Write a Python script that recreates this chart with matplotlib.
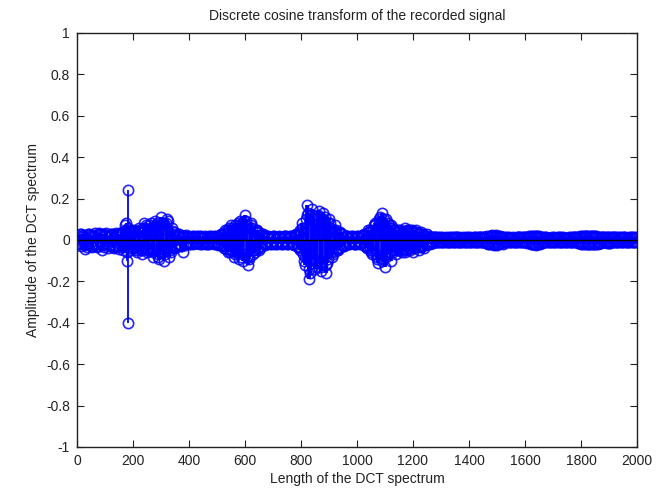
import matplotlib
matplotlib.use("Agg")
import matplotlib.pyplot as plt
import numpy as np

plt.rcParams["font.family"] = ["Liberation Sans", "DejaVu Sans"]

# DCT coefficients, index 10, 20, ..., 2000
seg1 = [0.03, -0.02, -0.045, 0.025, -0.03, 0.02, -0.035, 0.03, -0.05, 0.025,
        -0.04, 0.03, -0.03, 0.035, -0.045, 0.04, 0.07, -0.06, 0.05, -0.04]
seg2 = [-0.05, 0.06, -0.04, 0.08, -0.06, 0.05, -0.08, 0.09, -0.07, 0.11,
        -0.10, 0.10, -0.08, 0.06, -0.04, 0.03, -0.03, -0.06, 0.025, -0.02]
seg3 = [0.02, -0.015, 0.02, -0.02, 0.015, -0.02, 0.02, -0.015, 0.02, -0.02,
        0.025, -0.03, 0.05, -0.06, 0.07, -0.08, 0.06, -0.09, 0.08, 0.12]
seg4 = [-0.12, 0.07, -0.07, 0.05, -0.05, 0.03, -0.025, 0.02, -0.02, 0.02,
        -0.015, 0.02, -0.02, 0.015, -0.02, 0.02, -0.02, 0.025, -0.03, 0.04]
seg5 = [-0.10, 0.17, -0.19, 0.15, -0.14, 0.12, -0.15, 0.13, -0.16, 0.10,
        -0.08, 0.07, -0.05, 0.04, -0.03, 0.02, -0.02, 0.02, -0.015, 0.02]
seg6 = [-0.02, 0.025, -0.03, 0.05, -0.06, 0.07, -0.09, 0.10, 0.13, -0.13,
        0.08, -0.10, 0.06, -0.07, 0.05, -0.06, 0.06, -0.05, 0.05, -0.06]
seg7 = [0.05, -0.05, 0.04, -0.04, 0.03, -0.02, 0.015, -0.012, 0.012, -0.012,
        0.01, -0.012, 0.012, -0.01, 0.012, -0.012, 0.01, -0.012, 0.012, -0.01]
seg8 = [0.01, -0.012, 0.012, -0.01, 0.012, -0.015, 0.015, -0.02, 0.02, -0.025,
        0.02, -0.02, 0.012, -0.012, 0.01, -0.012, 0.012, -0.01, 0.012, -0.012]
seg9 = [0.015, -0.02, 0.02, -0.022, 0.018, -0.015, 0.012, -0.01, 0.01, -0.012,
        0.01, -0.01, 0.012, -0.01, 0.01, -0.012, 0.012, -0.012, 0.015, -0.018]
seg10 = [0.02, -0.02, 0.018, -0.02, 0.02, -0.018, 0.015, -0.012, 0.015, -0.015,
         0.015, -0.012, 0.012, -0.012, 0.012, -0.01, 0.012, -0.012, 0.012, -0.012]

# index 5, 15, ..., 1995
segA = [-0.02, 0.03, 0.015, -0.035, 0.02, -0.025, 0.035, -0.02, 0.03, -0.035,
        0.02, -0.025, 0.03, -0.03, 0.025, -0.035, -0.05, 0.04, -0.03, 0.045]
segB = [0.04, -0.03, 0.05, -0.05, 0.07, -0.04, 0.06, -0.05, 0.08, -0.06,
        0.07, -0.05, 0.09, -0.06, 0.04, -0.03, 0.03, 0.02, -0.025, 0.02]
segC = [-0.02, 0.015, -0.015, 0.02, -0.02, 0.015, -0.02, 0.015, -0.015, 0.02,
        -0.025, 0.03, -0.04, 0.05, -0.05, 0.06, -0.07, 0.08, -0.08, 0.06]
segD = [0.09, -0.09, 0.06, -0.06, 0.04, -0.03, 0.02, -0.02, 0.015, -0.02,
        0.02, -0.015, 0.015, -0.02, 0.02, -0.015, 0.02, -0.025, 0.03, -0.05]
segE = [0.08, -0.12, 0.13, -0.11, 0.10, -0.13, 0.14, -0.12, 0.11, -0.09,
        0.08, -0.06, 0.05, -0.04, 0.03, -0.025, 0.02, -0.015, 0.02, -0.02]
segF = [0.015, -0.02, 0.03, -0.04, 0.05, -0.07, 0.08, -0.11, 0.09, 0.07,
        -0.08, 0.07, -0.05, 0.05, -0.04, 0.05, -0.05, 0.04, -0.04, 0.05]
segG = [-0.04, 0.04, -0.03, 0.03, -0.025, 0.02, -0.015, 0.012, -0.01, 0.012,
        -0.012, 0.01, -0.012, 0.012, -0.01, 0.012, -0.012, 0.01, -0.012, 0.012]
segH = [-0.012, 0.01, -0.012, 0.012, -0.01, 0.012, -0.015, 0.018, -0.02, 0.022,
        -0.018, 0.015, -0.01, 0.012, -0.012, 0.01, -0.012, 0.012, -0.01, 0.012]
segI = [-0.012, 0.018, -0.018, 0.02, -0.02, 0.015, -0.012, 0.012, -0.01, 0.012,
        -0.012, 0.01, -0.01, 0.012, -0.012, 0.01, -0.01, 0.012, -0.012, 0.015]
segJ = [-0.015, 0.02, -0.02, 0.02, -0.018, 0.02, -0.015, 0.015, -0.012, 0.012,
        -0.015, 0.012, -0.012, 0.012, -0.01, 0.012, -0.012, 0.01, -0.012, 0.01]

# index 3, 13, ..., 1993
cC1 = [0.02, -0.03, 0.025, -0.02, 0.03, -0.035, 0.015, -0.03, 0.025, -0.02,
       0.035, -0.03, 0.02, -0.04, 0.03, -0.02, 0.04, -0.03, 0.06, -0.05]
cC2 = [0.05, -0.06, 0.04, -0.07, 0.06, -0.05, 0.08, -0.06, 0.07, -0.09,
       0.08, -0.07, 0.05, -0.05, 0.03, -0.025, 0.02, -0.03, 0.02, -0.015]
cC3 = [0.015, -0.02, 0.015, -0.015, 0.02, -0.015, 0.015, -0.02, 0.015, -0.015,
       0.02, -0.025, 0.035, -0.045, 0.06, -0.05, 0.07, -0.06, 0.09, -0.10]
cC4 = [0.07, -0.08, 0.08, -0.05, 0.05, -0.04, 0.03, -0.015, 0.02, -0.015,
       0.015, -0.02, 0.015, -0.015, 0.02, -0.02, 0.015, -0.02, 0.03, -0.04]
cC5 = [0.06, -0.08, 0.12, -0.16, 0.09, -0.10, 0.11, -0.13, 0.09, -0.11,
       0.06, -0.07, 0.04, -0.05, 0.03, -0.03, 0.02, -0.02, 0.015, -0.02]
cC6 = [0.02, -0.015, 0.025, -0.035, 0.04, -0.05, 0.07, -0.08, 0.11, -0.09,
       0.10, -0.06, 0.07, -0.05, 0.04, -0.05, 0.04, -0.06, 0.05, -0.04]
cC7 = [0.04, -0.035, 0.035, -0.03, 0.02, -0.02, 0.012, -0.015, 0.012, -0.01,
       0.012, -0.012, 0.01, -0.012, 0.012, -0.01, 0.012, -0.012, 0.01, -0.012]
cC8 = [0.012, -0.01, 0.012, -0.012, 0.015, -0.012, 0.02, -0.018, 0.022, -0.02,
       0.018, -0.015, 0.012, -0.01, 0.012, -0.012, 0.01, -0.012, 0.012, -0.01]
cC9 = [0.012, -0.015, 0.02, -0.02, 0.018, -0.018, 0.015, -0.012, 0.01, -0.012,
       0.012, -0.01, 0.012, -0.012, 0.01, -0.012, 0.012, -0.01, 0.015, -0.015]
cC10 = [0.018, -0.02, 0.02, -0.018, 0.02, -0.02, 0.015, -0.015, 0.012, -0.015,
        0.012, -0.012, 0.015, -0.01, 0.012, -0.012, 0.01, -0.012, 0.012, -0.012]

# index 8, 18, ..., 1998
dD1 = [-0.015, 0.02, -0.025, 0.03, -0.015, 0.025, -0.02, 0.035, -0.025, 0.03,
       -0.02, 0.025, -0.035, 0.02, -0.03, 0.03, -0.035, 0.045, -0.04, 0.035]
dD2 = [-0.035, 0.045, -0.05, 0.06, -0.04, 0.07, -0.05, 0.06, -0.08, 0.07,
       -0.06, 0.08, -0.04, 0.045, -0.035, 0.025, -0.02, 0.02, -0.015, 0.015]
dD3 = [-0.015, 0.02, -0.015, 0.015, -0.015, 0.02, -0.015, 0.02, -0.02, 0.015,
       -0.02, 0.03, -0.03, 0.04, -0.06, 0.05, -0.06, 0.07, -0.07, 0.09]
dD4 = [-0.08, 0.06, -0.05, 0.04, -0.04, 0.025, -0.02, 0.015, -0.015, 0.015,
       -0.02, 0.015, -0.015, 0.02, -0.015, 0.015, -0.02, 0.02, -0.035, 0.05]
dD5 = [-0.07, 0.10, -0.14, 0.12, -0.09, 0.08, -0.11, 0.10, -0.12, 0.08,
       -0.06, 0.05, -0.04, 0.035, -0.025, 0.02, -0.015, 0.015, -0.02, 0.015]
dD6 = [-0.015, 0.02, -0.025, 0.035, -0.05, 0.05, -0.07, 0.09, -0.10, 0.10,
       -0.07, 0.06, -0.06, 0.04, -0.05, 0.04, -0.04, 0.05, -0.05, 0.04]
dD7 = [-0.035, 0.03, -0.035, 0.025, -0.02, 0.015, -0.012, 0.012, -0.012, 0.01,
       -0.01, 0.012, -0.012, 0.01, -0.012, 0.012, -0.01, 0.012, -0.012, 0.01]
dD8 = [-0.01, 0.012, -0.01, 0.012, -0.012, 0.015, -0.018, 0.02, -0.022, 0.018,
       -0.015, 0.012, -0.012, 0.01, -0.012, 0.012, -0.01, 0.012, -0.012, 0.012]
dD9 = [-0.015, 0.015, -0.02, 0.018, -0.015, 0.012, -0.012, 0.01, -0.012, 0.01,
       -0.012, 0.012, -0.01, 0.01, -0.012, 0.012, -0.012, 0.012, -0.015, 0.018]
dD10 = [-0.02, 0.018, -0.02, 0.02, -0.02, 0.015, -0.015, 0.012, -0.012, 0.015,
        -0.012, 0.012, -0.012, 0.01, -0.012, 0.012, -0.01, 0.012, -0.01, 0.012]

# the isolated spike near index 180 and the DC term (off the bottom)
spike_x = [1, 176, 178, 181, 183]
spike_y = [-1.6, 0.08, -0.10, 0.24, -0.40]

idx_a = list(range(10, 2001, 10))
idx_b = list(range(5, 2000, 10))
idx_c = list(range(3, 2000, 10))
idx_d = list(range(8, 2000, 10))
vals_a = seg1 + seg2 + seg3 + seg4 + seg5 + seg6 + seg7 + seg8 + seg9 + seg10
vals_b = segA + segB + segC + segD + segE + segF + segG + segH + segI + segJ
vals_c = cC1 + cC2 + cC3 + cC4 + cC5 + cC6 + cC7 + cC8 + cC9 + cC10
vals_d = dD1 + dD2 + dD3 + dD4 + dD5 + dD6 + dD7 + dD8 + dD9 + dD10

x = np.array(idx_a + idx_b + idx_c + idx_d)
y = np.array(vals_a + vals_b + vals_c + vals_d)
order = np.argsort(x, kind="stable")
x, y = x[order], y[order]

fig = plt.figure(figsize=(6.67, 4.92), dpi=100)
ax = fig.add_axes([0.1154, 0.0915, 0.8396, 0.8415])

blue = "#0000ff"
ml, sl, bl = ax.stem(x, y, basefmt="k-")
plt.setp(sl, color=blue, linewidth=2.7)
plt.setp(ml, color=blue, marker="o", markersize=7.4, markerfacecolor="none",
         markeredgewidth=1.2, alpha=0.85)
plt.setp(bl, color="black", linewidth=1.0, zorder=5)

# isolated stems drawn thin, as in the original
ml2, sl2, bl2 = ax.stem(spike_x, spike_y)
plt.setp(sl2, color=blue, linewidth=1.3)
plt.setp(ml2, color=blue, marker="o", markersize=7.4, markerfacecolor="none",
         markeredgewidth=1.2, alpha=0.85)
bl2.set_visible(False)

ax.set_xlim(0, 2000)
ax.set_ylim(-1, 1)
ax.set_xticks(np.arange(0, 2001, 200))
ax.set_yticks(np.arange(-1, 1.01, 0.2))
ax.set_yticklabels(["-1", "-0.8", "-0.6", "-0.4", "-0.2", "0",
                    "0.2", "0.4", "0.6", "0.8", "1"])
ax.tick_params(direction="in", top=True, right=True, length=5,
               labelsize=10, colors="#222222", pad=5)
for s in ax.spines.values():
    s.set_linewidth(1.0)
    s.set_color("#222222")

ax.set_title("Discrete cosine transform of the recorded signal", fontsize=10,
             color="#222222", pad=9)
ax.set_xlabel("Length of the DCT spectrum", fontsize=10, color="#222222",
              labelpad=3)
ax.set_ylabel("Amplitude of the DCT spectrum", fontsize=10, color="#222222",
              labelpad=4)

fig.savefig("out.png", dpi=100)
